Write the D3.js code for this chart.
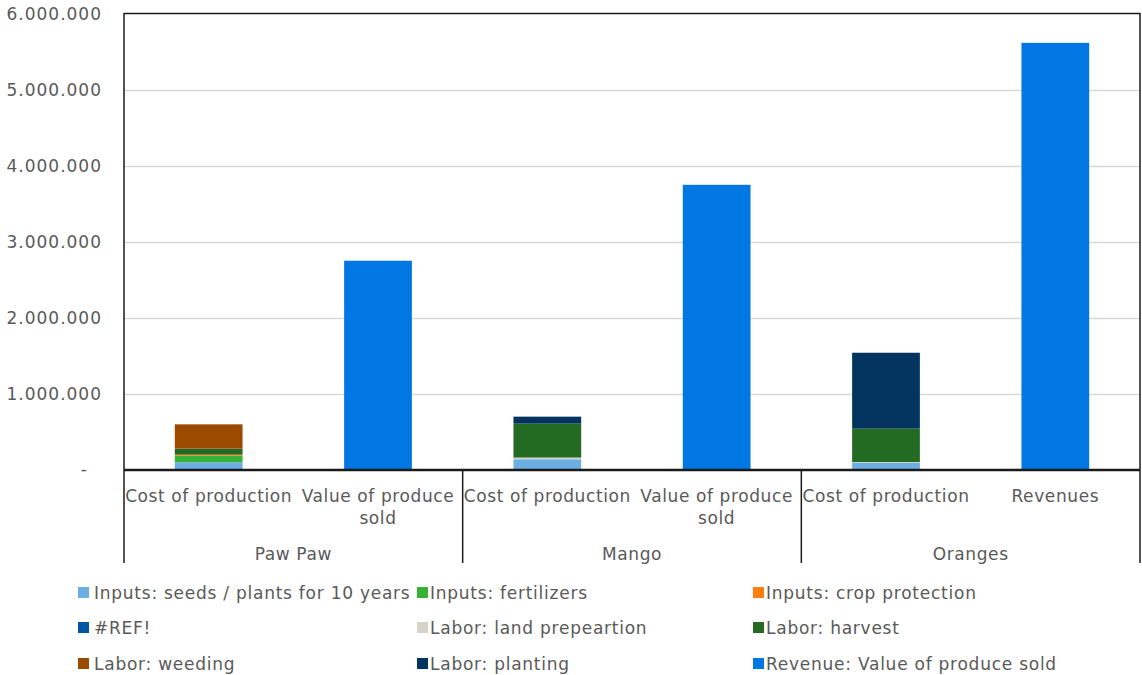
<!DOCTYPE html>
<html>
<head>
<meta charset="utf-8">
<script src="https://cdn.jsdelivr.net/npm/d3@7"></script>
<style>
  html, body { margin: 0; padding: 0; background: #fff; }
  svg text { font-family: "DejaVu Sans", Verdana, sans-serif; fill: #595959; }
</style>
</head>
<body>
<svg id="chart" width="1142" height="675"></svg>
<script>
// Bars on the category axis, grouped by crop
const categories = ["Cost of production", "Value of produce sold", "Cost of production", "Value of produce sold", "Cost of production", "Revenues"];
const groups = ["Paw Paw", "Mango", "Oranges"];
const yTicks = [0, 1000000, 2000000, 3000000, 4000000, 5000000, 6000000];

// Series values, one entry per category bar (stacked bottom to top)
const seeds          = [95000, 0, 135000, 0, 90000, 0];
const fertilizers    = [85000, 0, 0, 0, 0, 0];
const cropProtection = [15000, 0, 0, 0, 0, 0];
const refError       = [0, 0, 0, 0, 0, 0];
const landPrep       = [0, 0, 22000, 0, 8000, 0];
const harvest        = [80000, 0, 447000, 0, 440000, 0];
const weeding        = [320000, 0, 0, 0, 0, 0];
const planting       = [0, 0, 92000, 0, 1000000, 0];
const revenue        = [0, 2750000, 0, 3750000, 0, 5620000];

const seriesNames = [
  "Inputs: seeds / plants for 10 years", "Inputs: fertilizers", "Inputs: crop protection",
  "#REF!", "Labor: land prepeartion", "Labor: harvest",
  "Labor: weeding", "Labor: planting", "Revenue: Value of produce sold"
];
const seriesValues = [seeds, fertilizers, cropProtection, refError, landPrep, harvest, weeding, planting, revenue];
const seriesColors = ["#6caee3", "#36b336", "#ff7f0e", "#0055a5", "#d6d3c9", "#236b23", "#9c4a00", "#02345f", "#0077e2"];

const svg = d3.select("#chart");
const plot = { left: 124, right: 1140, top: 13, bottom: 469.5, axisBottom: 563 };

const y = d3.scaleLinear().domain([0, 6000000]).range([plot.bottom, plot.top + 1]);
const x = d3.scaleBand().domain(d3.range(categories.length))
  .range([plot.left, plot.right]).paddingInner(0.6).paddingOuter(0.3);

const locale = d3.formatLocale({ decimal: ",", thousands: ".", grouping: [3], currency: ["", ""] });
const fmt = locale.format(",.0f");

// gridlines
svg.append("g").selectAll("line").data(yTicks.slice(1, -1)).join("line")
  .attr("x1", plot.left).attr("x2", plot.right)
  .attr("y1", d => Math.round(y(d)) + 0.5).attr("y2", d => Math.round(y(d)) + 0.5)
  .attr("stroke", "#d9d9d9").attr("stroke-width", 1.5);

// y axis labels
const yAxis = d3.axisLeft(y).tickValues(yTicks).tickSize(0).tickPadding(0)
  .tickFormat(d => d === 0 ? "-" : fmt(d));
const yg = svg.append("g").attr("transform", "translate(102,0)").call(yAxis);
yg.select(".domain").remove();
yg.selectAll("text").attr("font-size", 17).attr("letter-spacing", 1).style("fill", "#595959")
  .attr("font-family", "DejaVu Sans, Verdana, sans-serif");
yg.selectAll(".tick").filter(d => d === 0).select("text").attr("dx", -14);

// stacked bars
const rows = categories.map((c, i) => {
  const r = { idx: i };
  seriesNames.forEach((n, k) => r[n] = seriesValues[k][i]);
  return r;
});
const stack = d3.stack().keys(seriesNames)(rows);
svg.append("g").selectAll("g").data(stack).join("g")
  .attr("fill", (d, k) => seriesColors[k])
  .selectAll("rect").data(d => d.filter(p => p[1] - p[0] > 0)).join("rect")
  .attr("x", d => x(d.data.idx))
  .attr("width", x.bandwidth())
  .attr("y", d => y(d[1]))
  .attr("height", d => y(d[0]) - y(d[1]));

// frame of the plot area
const frame = svg.append("g").attr("stroke", "#1a1a1a").attr("fill", "none");
frame.append("line").attr("x1", plot.left).attr("x2", plot.right).attr("y1", plot.top + 0.5).attr("y2", plot.top + 0.5).attr("stroke-width", 1.5);
frame.append("line").attr("x1", plot.left).attr("x2", plot.right).attr("y1", plot.bottom + 0.5).attr("y2", plot.bottom + 0.5).attr("stroke-width", 2.5);

// group separators on the category axis
const step = x.step();
const bounds = groups.map((g, i) => plot.left + i * 2 * step).concat([plot.right]);
frame.selectAll(".sep").data(bounds).join("line")
  .attr("x1", d => d).attr("x2", d => d)
  .attr("y1", (d, i) => (i === 0 || i === bounds.length - 1) ? plot.top : plot.bottom)
  .attr("y2", plot.axisBottom)
  .attr("stroke-width", 1.5);

// category labels, wrapped to the band width
const catG = svg.append("g").attr("font-size", 17).attr("letter-spacing", 0.6).attr("text-anchor", "middle");
categories.forEach((c, i) => {
  const cx = x(i) + x.bandwidth() / 2;
  const t = catG.append("text").attr("x", cx).attr("y", 502);
  const words = c.split(" ");
  let line = [], lines = [];
  const probe = catG.append("text").attr("visibility", "hidden");
  words.forEach(w => {
    const test = line.concat([w]).join(" ");
    probe.text(test);
    if (probe.node().getComputedTextLength() > step && line.length) {
      lines.push(line.join(" "));
      line = [w];
    } else line.push(w);
  });
  lines.push(line.join(" "));
  probe.remove();
  lines.forEach((l, j) => t.append("tspan").attr("x", cx).attr("dy", j ? 22 : 0).text(l));
});

// group labels
svg.append("g").attr("font-size", 17).attr("letter-spacing", 0.6).attr("text-anchor", "middle")
  .selectAll("text").data(groups).join("text")
  .attr("x", (d, i) => (bounds[i] + bounds[i + 1]) / 2)
  .attr("y", 560)
  .text(d => d);

// legend: three columns, row-major order
const legSwatchX = [78, 417, 753];
const legTextX = [94, 430, 766];
const legY = [593, 628, 664];
const leg = svg.append("g").attr("font-size", 17).attr("letter-spacing", 0.75);
seriesNames.forEach((n, k) => {
  const col = k % 3, cy = legY[Math.floor(k / 3)];
  leg.append("rect").attr("x", legSwatchX[col]).attr("y", cy - 6).attr("width", 11).attr("height", 11).attr("fill", seriesColors[k]);
  leg.append("text").attr("x", legTextX[col]).attr("y", cy + 6).text(n);
});
</script>
</body>
</html>
